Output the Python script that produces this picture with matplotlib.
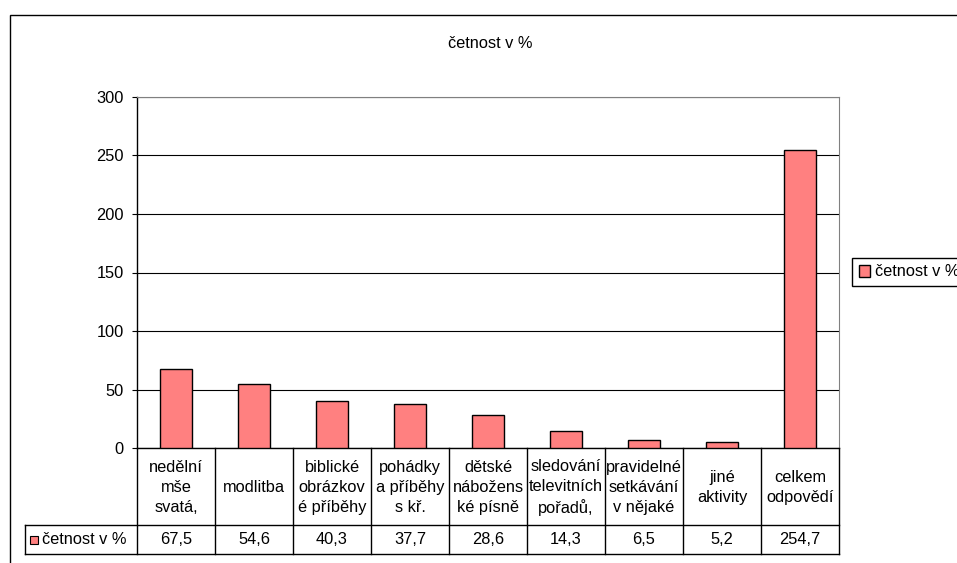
"""
   Bar chart with an Excel style data table underneath.
"""
import matplotlib
matplotlib.use("Agg")
import matplotlib.pyplot as plt
from matplotlib.patches import Rectangle
import matplotlib.transforms as mtransforms

plt.rcParams['font.family'] = ['Liberation Sans', 'DejaVu Sans']
plt.rcParams['font.size'] = 11.8

# the data, as the table shows it
categories = ["nedělní\nmše\nsvatá,", "modlitba", "biblické\nobrázkov\né příběhy",
              "pohádky\na příběhy\ns kř.", "dětské\nnábožens\nké písně",
              "sledování\ntelevitních\npořadů,", "pravidelné\nsetkávání\nv nějaké",
              "jiné\naktivity", "celkem\nodpovědí"]
values = [67.5, 54.6, 40.3, 37.7, 28.6, 14.3, 6.5, 5.2, 254.7]
series_name = "četnost v %"
y_ticks = [0, 50, 100, 150, 200, 250, 300]

bar_color = "#FF8080"

W, H = 957, 563
fig = plt.figure(figsize=(W / 100, H / 100), dpi=100)

#     outer chart border (runs off the right and bottom edges)
fig.add_artist(Rectangle((10 / W, -0.2), 1.2, 1.2 - 15 / H, transform=fig.transFigure,
                         fill=False, edgecolor="black", linewidth=1.0))

#     title
fig.text(490 / W, 1 - 43 / H, series_name, ha="center", va="center")

#     plot area in pixels: x 137..839, y 97..448
ax = fig.add_axes([137 / W, 1 - 448 / H, (839 - 137) / W, (448 - 97) / H])
x = list(range(len(values)))
ax.bar(x, values, width=0.4, color=bar_color, edgecolor="black", linewidth=1.0,
       zorder=3, label=series_name)
ax.set_xlim(-0.5, len(values) - 0.5)
ax.set_ylim(0, 300)
ax.set_yticks(y_ticks)
ax.set_xticks([])
ax.yaxis.grid(True, color="black", linewidth=0.8, zorder=0)
ax.tick_params(axis="y", direction="out", length=3.6, width=0.8, pad=6.0)
ax.spines["top"].set_color("#808080")
ax.spines["right"].set_color("#808080")
ax.spines["left"].set_linewidth(1.0)
ax.spines["bottom"].set_linewidth(1.0)

#     data table below the plot
ax_h = 448 - 97
col_w = (839 - 137) / len(values)
y_head = -(525 - 448) / ax_h
y_val = -(554 - 448) / ax_h
x_left = -0.5 - (137 - 25) / col_w
tr = mtransforms.blended_transform_factory(ax.transData, ax.transAxes)
line_kw = dict(color="black", linewidth=1.0, transform=tr, clip_on=False)

for i in range(len(values) + 1):
    ax.plot([i - 0.5, i - 0.5], [0, y_val], **line_kw)
ax.plot([x_left, len(values) - 0.5], [y_head, y_head], **line_kw)
ax.plot([x_left, len(values) - 0.5], [y_val, y_val], **line_kw)
ax.plot([x_left, x_left], [y_head, y_val], **line_kw)

for i, (cat, v) in enumerate(zip(categories, values)):
    ax.text(i, y_head / 2 - 1 / ax_h, cat, transform=tr, ha="center", va="center",
            linespacing=1.38, clip_on=False)
    ax.text(i, (y_head + y_val) / 2, f"{v:.1f}".replace(".", ","), transform=tr,
            ha="center", va="center", clip_on=False)

#     legend key inside the table
key_x = -0.5 - (137 - 30) / col_w
ax.add_patch(Rectangle((key_x, (y_head + y_val) / 2 - 4 / ax_h), 8 / col_w, 8 / ax_h,
                       transform=tr, facecolor=bar_color, edgecolor="black",
                       linewidth=0.8, clip_on=False))
ax.text(-0.5 - (137 - 42) / col_w, (y_head + y_val) / 2, series_name, transform=tr,
        ha="left", va="center", clip_on=False)

#     legend box on the right, cut off by the figure edge
fig.legend(loc="center left", bbox_to_anchor=(852 / W, 1 - 272 / H), frameon=True,
           fancybox=False, edgecolor="black", framealpha=1, borderpad=0.4,
           handlelength=0.7, handleheight=0.7, handletextpad=0.3, borderaxespad=0)

fig.savefig("out.png", dpi=100)
